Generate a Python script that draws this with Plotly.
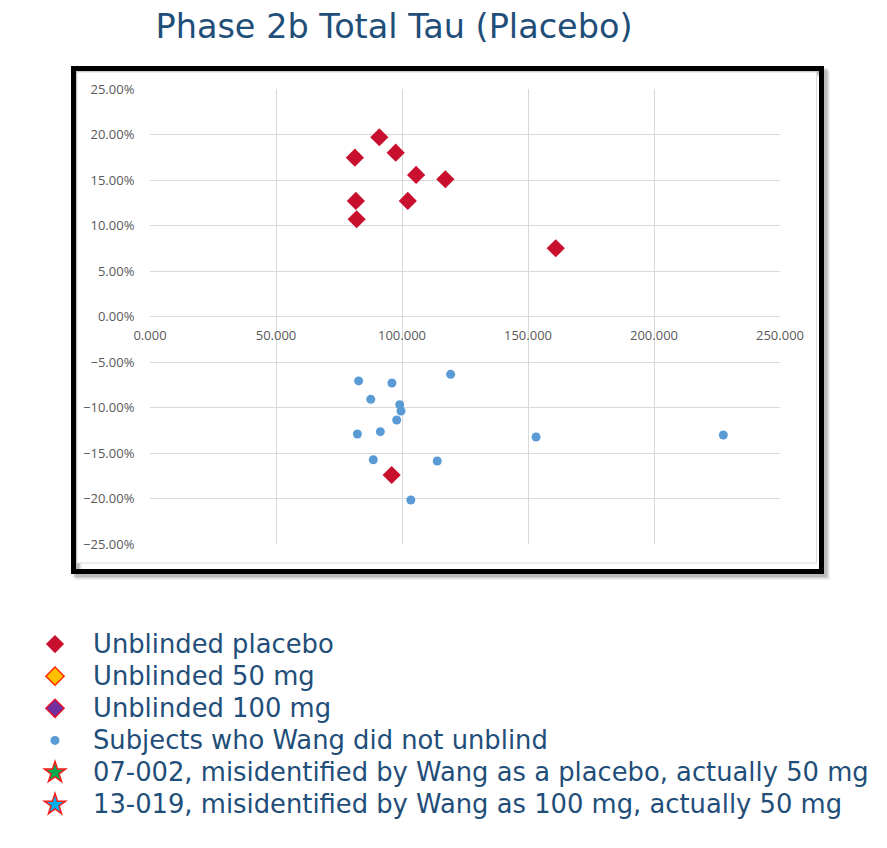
import plotly.graph_objects as go

# ---- data (x: total tau value, y: % change) ----
placebo_x = [91.0, 81.3, 97.5, 105.6, 117.2, 81.7, 102.3, 82.0, 161.0, 95.9]
placebo_y = [0.1973, 0.1748, 0.1803, 0.1558, 0.1511, 0.1272, 0.1272, 0.1071, 0.0752, -0.1741]

blind_x = [82.8, 96.0, 119.3, 87.6, 99.1, 99.6, 97.9, 91.4, 82.3, 88.6, 114.0, 103.5, 153.2, 227.5]
blind_y = [-0.0707, -0.0729, -0.0634, -0.0909, -0.0968, -0.1037, -0.1136, -0.1265, -0.1290,
           -0.1573, -0.1587, -0.2016, -0.1323, -0.1301]

# groups with no points on this chart (legend only)
mg50_x, mg50_y = [None], [None]
mg100_x, mg100_y = [None], [None]
s07_x, s07_y = [None], [None]
s13_x, s13_y = [None], [None]

x_ticks = [0, 50, 100, 150, 200, 250]
y_ticks = [0.25, 0.20, 0.15, 0.10, 0.05, 0.0, -0.05, -0.10, -0.15, -0.20, -0.25]

names = [
    "Unblinded placebo",
    "Unblinded 50 mg",
    "Unblinded 100 mg",
    "Subjects who Wang did not unblind",
    "07-002, misidentified by Wang as a placebo, actually 50 mg",
    "13-019, misidentified by Wang as 100 mg, actually 50 mg",
]

W, H = 887, 848
RED = "#C8102E"
NAVY = "#1F4E79"
GRID = "#D9D9D9"
TICKC = "#595959"
LEG_FONT = "DejaVu Sans"


def lab(i):
    return '<span style="font-size:25.8px">' + names[i] + '</span>'


fig = go.Figure()
fig.add_trace(go.Scatter(x=placebo_x, y=placebo_y, mode="markers", name=lab(0),
                         marker=dict(symbol="diamond", size=14, color=RED)))
fig.add_trace(go.Scatter(x=mg50_x, y=mg50_y, mode="markers", name=lab(1),
                         marker=dict(symbol="diamond", size=14, color="#FFC000",
                                     line=dict(color="#FF2A00", width=1.5))))
fig.add_trace(go.Scatter(x=mg100_x, y=mg100_y, mode="markers", name=lab(2),
                         marker=dict(symbol="diamond", size=14, color="#7030A0",
                                     line=dict(color="#E8112D", width=1.5))))
fig.add_trace(go.Scatter(x=blind_x, y=blind_y, mode="markers", name=lab(3),
                         marker=dict(symbol="circle", size=9, color="#5B9BD5")))
fig.add_trace(go.Scatter(x=s07_x, y=s07_y, mode="markers", name=lab(4),
                         marker=dict(symbol="star", size=18, color="#00A650",
                                     line=dict(color="#FF1A1A", width=1.5))))
fig.add_trace(go.Scatter(x=s13_x, y=s13_y, mode="markers", name=lab(5),
                         marker=dict(symbol="star", size=18, color="#00B0F0",
                                     line=dict(color="#FF1A1A", width=1.5))))

# plot area in pixels
px0, px1 = 150, 780
py_top, py_bot = 89.3, 544.0
xd = [px0 / W, px1 / W]
yd = [(H - py_bot) / H, (H - py_top) / H]


def rx(p):
    return p / W


def ry(p):
    return (H - p) / H


shapes = []
# shadow
for off, col in [(5, "rgba(0,0,0,0.10)"), (3, "rgba(0,0,0,0.18)")]:
    shapes.append(dict(type="rect", xref="paper", yref="paper",
                       x0=rx(73.5 + off), x1=rx(821.5 + off), y0=ry(571.5 + off), y1=ry(68.5 + off),
                       line=dict(color=col, width=6), layer="below"))
# inner light border
shapes.append(dict(type="rect", xref="paper", yref="paper",
                   x0=rx(77), x1=rx(816.5), y0=ry(563), y1=ry(72),
                   line=dict(color=GRID, width=1), fillcolor="white", layer="below"))
# thick black frame
shapes.append(dict(type="rect", xref="paper", yref="paper",
                   x0=rx(73.5), x1=rx(821.5), y0=ry(571.5), y1=ry(68.5),
                   line=dict(color="black", width=5), layer="above"))

fig.update_layout(
    width=W, height=H,
    margin=dict(l=0, r=0, t=0, b=0, autoexpand=False),
    paper_bgcolor="white",
    plot_bgcolor="white",
    font=dict(family="Open Sans", color=NAVY),
    title=dict(text="Phase 2b Total Tau (Placebo)", x=394 / W, xanchor="center",
               y=ry(26), yanchor="middle", yref="paper", xref="paper",
               font=dict(family=LEG_FONT, size=33.5, color=NAVY)),
    xaxis=dict(domain=xd, range=[0, 250], tickvals=x_ticks, tickformat=".3f",
               showgrid=True, gridcolor=GRID, gridwidth=1, zeroline=False,
               showline=False, anchor="free", position=(yd[0] + yd[1]) / 2,
               ticks="outside", ticklen=7, tickcolor="rgba(0,0,0,0)",
               tickfont=dict(family="Open Sans", size=13, color=TICKC), fixedrange=True),
    yaxis=dict(domain=yd, range=[-0.25, 0.25], tickvals=y_ticks, tickformat=".2%",
               showgrid=True, gridcolor=GRID, gridwidth=1, zeroline=True,
               zerolinecolor=GRID, zerolinewidth=1, showline=False,
               ticks="outside", ticklen=12, tickcolor="rgba(0,0,0,0)",
               tickfont=dict(family="Open Sans", size=13, color=TICKC), fixedrange=True),
    showlegend=True,
    legend=dict(x=rx(17), y=ry(623), xanchor="left", yanchor="top",
                xref="paper", yref="paper",
                font=dict(family=LEG_FONT, size=22.4, color=NAVY),
                itemwidth=66, bgcolor="rgba(0,0,0,0)"),
    shapes=shapes,
)

fig.write_html("out.html")
